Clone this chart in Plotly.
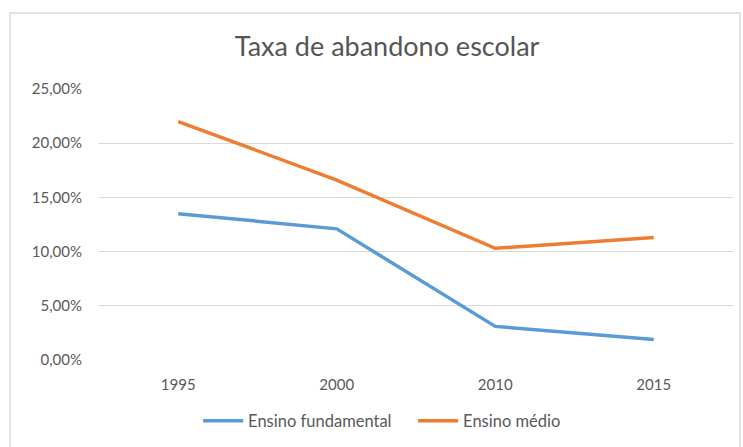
import plotly.graph_objects as go

# Dropout rates by year (fractions)
anos = ["1995", "2000", "2010", "2015"]
fundamental = [0.135, 0.121, 0.031, 0.019]
medio = [0.220, 0.166, 0.103, 0.113]
serie_nomes = ["Ensino fundamental", "Ensino médio"]
titulo = "Taxa de abandono escolar"
y_ticks = [0, 0.05, 0.10, 0.15, 0.20, 0.25]

FONT = "Lato"
TXT = "#595959"
W, H = 743, 447

fig = go.Figure()
fig.add_trace(go.Scatter(x=anos, y=fundamental, mode="lines", name=serie_nomes[0],
                         line=dict(color="#5B9BD5", width=3.5)))
fig.add_trace(go.Scatter(x=anos, y=medio, mode="lines", name=serie_nomes[1],
                         line=dict(color="#ED7D31", width=3.5)))

fig.update_layout(
    width=W, height=H,
    paper_bgcolor="white", plot_bgcolor="white",
    margin=dict(l=99, r=10, t=89, b=87),
    separators=",.",
    font=dict(family=FONT, color=TXT, size=15),
    title=dict(text=titulo, x=0.521, xanchor="center", y=0.895, yanchor="middle",
               xref="container", yref="container",
               font=dict(family=FONT, size=27, color="#555555")),
    legend=dict(orientation="h", xref="container", x=0.556, xanchor="center",
                yref="container", y=0.058, yanchor="middle",
                font=dict(size=16.5, color=TXT), itemwidth=40, tracegroupgap=0,
                entrywidth=160, entrywidthmode="pixels"),
    showlegend=True,
    xaxis=dict(type="category", range=[-0.5, 3.5], showgrid=False, showline=False,
               zeroline=False, ticks="", ticklabelstandoff=14,
               tickfont=dict(size=15, color=TXT)),
    yaxis=dict(range=[0, 0.25], tickvals=y_ticks, tickformat=".2%",
               showgrid=True, gridcolor="#D9D9D9", gridwidth=1, zeroline=False,
               showline=False, ticks="", ticklabelstandoff=16,
               tickfont=dict(size=15, color=TXT)),
)

# outer chart frame
fig.add_shape(type="rect", xref="paper", yref="paper",
              x0=-89 / 634, x1=(740 - 99) / 634, y0=-(447 - 360 + 2) / 271, y1=(360 - 13) / 271,
              line=dict(color="#D9D9D9", width=1.5), fillcolor="rgba(0,0,0,0)", layer="below")

fig.write_html("out.html")
